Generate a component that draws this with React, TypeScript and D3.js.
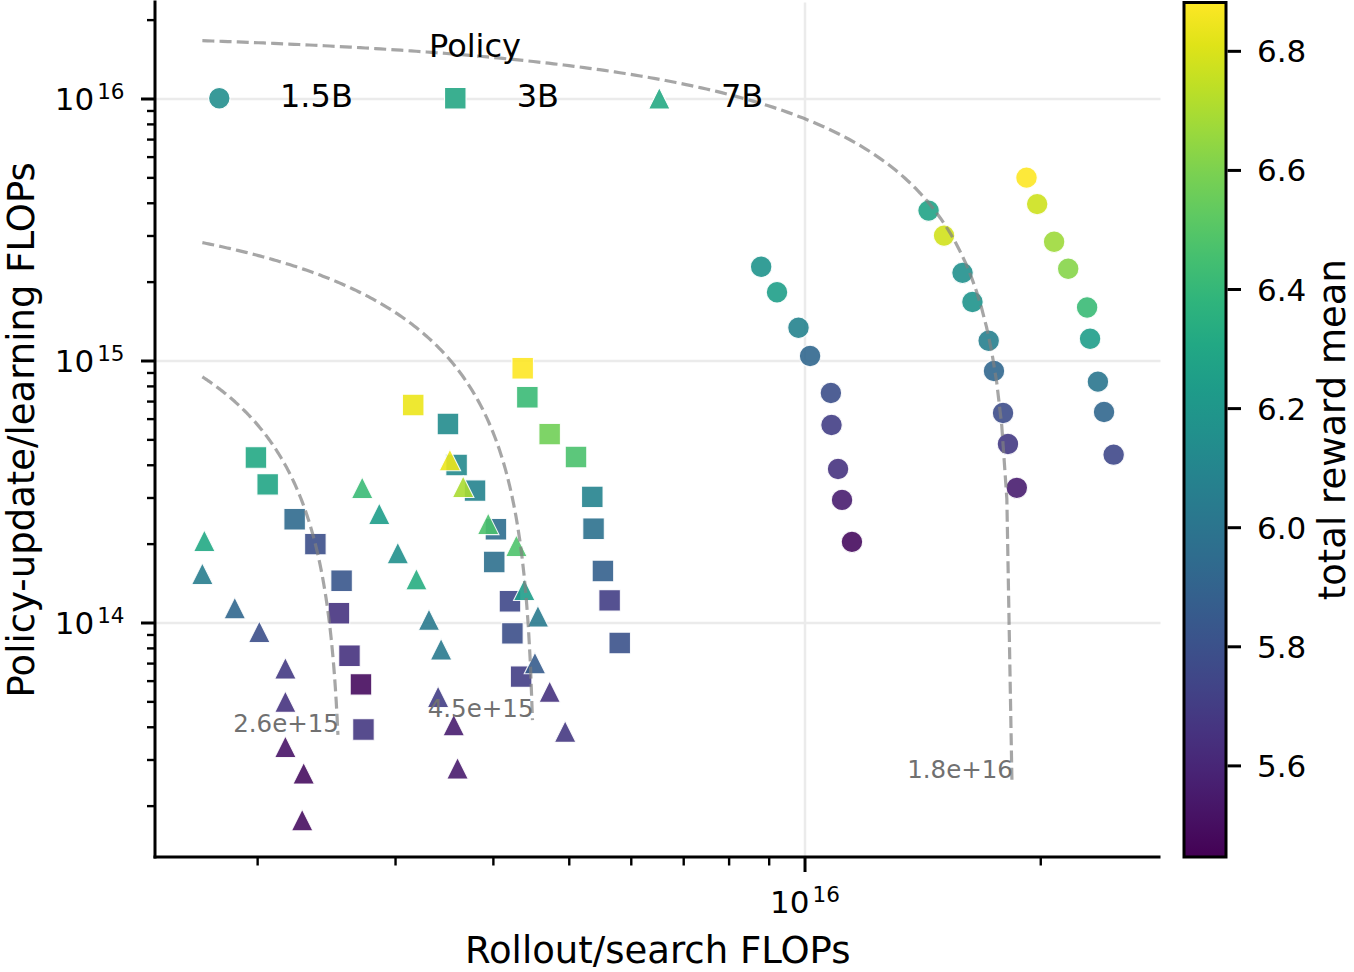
import * as d3 from "d3";

// Policy sizes in legend order
const policies = ["1.5B", "3B", "7B"];
const legendColors = ["#399a99", "#3aaf90", "#3bb290"];

// 1.5B runs
const rollout15 = [
  8.79e15, 9.21e15, 9.81e15, 1.015e16, 1.079e16, 1.081e16, 1.102e16, 1.115e16, 1.148e16,
  1.438e16, 1.505e16, 1.589e16, 1.636e16, 1.716e16, 1.743e16, 1.79e16, 1.816e16, 1.864e16,
  1.918e16, 1.979e16, 2.08e16, 2.168e16, 2.292e16, 2.312e16, 2.366e16, 2.409e16, 2.478e16,
];
const update15 = [
  2.29e15, 1.83e15, 1.34e15, 1.045e15, 7.55e14, 5.7e14, 3.87e14, 2.95e14, 2.04e14,
  3.75e15, 3.01e15, 2.17e15, 1.68e15, 1.195e15, 9.16e14, 6.33e14, 4.82e14, 3.28e14,
  5.01e15, 3.97e15, 2.85e15, 2.25e15, 1.6e15, 1.216e15, 8.34e14, 6.39e14, 4.39e14,
];
const reward15 = [
  6.19, 6.25, 6.09, 5.92, 5.79, 5.71, 5.66, 5.56, 5.49,
  6.28, 6.78, 6.16, 6.19, 6.06, 5.92, 5.78, 5.69, 5.56,
  6.88, 6.77, 6.67, 6.62, 6.42, 6.24, 6.01, 5.92, 5.76,
];

// 3B runs
const rollout3 = [
  1.99e15, 2.06e15, 2.23e15, 2.37e15, 2.56e15, 2.54e15, 2.62e15, 2.71e15, 2.73e15,
  3.16e15, 3.5e15, 3.59e15, 3.79e15, 4.03e15, 4.01e15, 4.2e15, 4.23e15, 4.34e15,
  4.36e15, 4.42e15, 4.72e15, 5.1e15, 5.35e15, 5.37e15, 5.52e15, 5.63e15, 5.8e15,
];
const update3 = [
  4.28e14, 3.38e14, 2.49e14, 2.0e14, 1.45e14, 1.09e14, 7.5e13, 5.83e13, 3.92e13,
  6.79e14, 5.75e14, 4.01e14, 3.2e14, 2.28e14, 1.71e14, 1.21e14, 9.13e13, 6.24e13,
  9.38e14, 7.27e14, 5.26e14, 4.3e14, 3.03e14, 2.29e14, 1.58e14, 1.22e14, 8.39e13,
];
const reward3 = [
  6.31, 6.29, 5.94, 5.79, 5.83, 5.66, 5.65, 5.49, 5.68,
  6.84, 6.14, 6.13, 6.09, 5.96, 5.97, 5.76, 5.79, 5.71,
  6.88, 6.42, 6.57, 6.47, 6.09, 5.98, 5.88, 5.71, 5.81,
];

// 7B runs
const rollout7 = [
  1.71e15, 1.7e15, 1.87e15, 2.01e15, 2.17e15, 2.17e15, 2.17e15, 2.29e15, 2.28e15,
  2.72e15, 2.86e15, 3.02e15, 3.19e15, 3.31e15, 3.43e15, 3.4e15, 3.56e15, 3.6e15,
  3.52e15, 3.66e15, 3.94e15, 4.28e15, 4.38e15, 4.56e15, 4.52e15, 4.72e15, 4.94e15,
];
const update7 = [
  2.06e14, 1.54e14, 1.14e14, 9.26e13, 6.72e13, 5.01e13, 3.37e13, 2.67e13, 1.77e13,
  3.28e14, 2.61e14, 1.85e14, 1.47e14, 1.03e14, 7.94e13, 5.23e13, 4.08e13, 2.79e13,
  4.19e14, 3.31e14, 2.39e14, 1.97e14, 1.34e14, 1.06e14, 7.04e13, 5.47e13, 3.85e13,
];
const reward7 = [
  6.31, 6.05, 5.92, 5.79, 5.69, 5.66, 5.52, 5.5, 5.5,
  6.42, 6.24, 6.16, 6.34, 6.03, 6.03, 5.71, 5.56, 5.55,
  6.84, 6.7, 6.47, 6.48, 6.24, 6.03, 5.86, 5.65, 5.68,
];

// iso-FLOP budgets (rollout + update) and where each dashed curve stops
const isoFlops = [2.57e15, 4.53e15, 1.84e16];
const isoEndUpdate = [3.74e13, 4.26e13, 2.5e13];

const rewardTicks = [5.6, 5.8, 6.0, 6.2, 6.4, 6.6, 6.8];

const W = 1354;
const H = 972;
const left = 155;
const right = 1160.5;
const top = 2.5;
const bottom = 857;
const cbX = 1184;
const cbW = 42;
const font = "DejaVu Sans";
const labelSize = 37;
const tickSize = 31;

const x = d3.scaleLog().domain([1.479e15, 2.844e16]).range([left, right]);
const y = d3.scaleLog().domain([1.279e13, 2.335e16]).range([bottom, top]);
const rewardDomain: [number, number] = [5.447, 6.882];
const color = d3.scaleSequential(d3.interpolateViridis).domain(rewardDomain);
const cy = d3.scaleLinear().domain(rewardDomain).range([bottom, top]);

type Pt = { rx: number; uy: number; r: number };
const zipRuns = (a: number[], b: number[], c: number[]): Pt[] =>
  a.map((v, i) => ({ rx: v, uy: b[i], r: c[i] }));
const series = [
  zipRuns(rollout15, update15, reward15),
  zipRuns(rollout3, update3, reward3),
  zipRuns(rollout7, update7, reward7),
];

const S = 10.75;
const markerPath = (k: number, s: number = S) => {
  if (k === 0) return d3.symbol(d3.symbolCircle, Math.PI * s * s)() as string;
  if (k === 1) return `M${-s},${-s}H${s}V${s}H${-s}Z`;
  return `M0,${-s}L${s},${s}L${-s},${s}Z`;
};

const isMajor = (v: number) => Math.abs(Math.log10(v) - Math.round(Math.log10(v))) < 1e-6;
const expOf = (v: number) => Math.round(Math.log10(v));

const xMin = d3.min(series.flat(), (d) => d.rx) as number;
const curveLine = d3
  .line<[number, number]>()
  .x((d) => x(d[0]))
  .y((d) => y(d[1]));
const isoPaths = isoFlops.map((c, i) => {
  const xEnd = c - isoEndUpdate[i];
  const n = 160;
  const pts: [number, number][] = d3.range(n).map((j) => {
    const rx = xMin * Math.pow(xEnd / xMin, j / (n - 1));
    return [rx, c - rx];
  });
  return { d: curveLine(pts) as string, end: [xEnd, isoEndUpdate[i]], label: d3.format(".1e")(c) };
});

const PowLabel = ({ v, ...rest }: { v: number; [k: string]: any }) => (
  <text fontSize={tickSize} {...rest}>
    10
    <tspan dx={3} dy={-11} fontSize={21.5}>
      {expOf(v)}
    </tspan>
  </text>
);

export default function App() {
  const xTicks = x.ticks();
  const yTicks = y.ticks();
  return (
    <svg
      width={W}
      height={H}
      style={{ position: "absolute", left: 0, top: 0, background: "#fff" }}
      fontFamily={font}
    >
      <defs>
        <linearGradient id="viridis" x1="0" y1="1" x2="0" y2="0">
          {d3.range(0, 1.0001, 0.05).map((t) => (
            <stop key={t} offset={t} stopColor={d3.interpolateViridis(t)} />
          ))}
        </linearGradient>
      </defs>

      {/* grid */}
      {yTicks.filter(isMajor).map((t) => (
        <line key={"gy" + t} x1={left} x2={right} y1={y(t)} y2={y(t)} stroke="#ebebeb" strokeWidth={2.5} />
      ))}
      {xTicks.filter(isMajor).map((t) => (
        <line key={"gx" + t} x1={x(t)} x2={x(t)} y1={top} y2={bottom} stroke="#ebebeb" strokeWidth={2.5} />
      ))}

      {/* runs, one marker shape per policy */}
      {series.map((pts, k) => (
        <g key={k}>
          {pts.map((p, i) => (
            <path
              key={i}
              d={markerPath(k)}
              transform={`translate(${x(p.rx)},${y(p.uy)})`}
              fill={color(p.r)}
              fillOpacity={0.9}
              stroke="#fff"
              strokeOpacity={0.9}
              strokeWidth={1.1}
            />
          ))}
        </g>
      ))}

      {/* iso-FLOP curves */}
      {isoPaths.map((c, i) => (
        <g key={"iso" + i}>
          <path d={c.d} fill="none" stroke="#808080" strokeOpacity={0.7} strokeWidth={3.2} strokeDasharray="12 5.2" />
          <text
            x={x(c.end[0]) + 1}
            y={y(c.end[1]) - 3}
            textAnchor="end"
            fontSize={24.5}
            fill="#707070"
          >
            {c.label}
          </text>
        </g>
      ))}

      {/* axes */}
      <line x1={left} x2={left} y1={top - 2} y2={bottom + 1.5} stroke="#000" strokeWidth={3} />
      <line x1={left - 1.5} x2={right} y1={bottom} y2={bottom} stroke="#000" strokeWidth={3} />
      {yTicks.map((t) => {
        const major = isMajor(t);
        return (
          <line
            key={"ty" + t}
            x1={left - (major ? 14 : 8)}
            x2={left}
            y1={y(t)}
            y2={y(t)}
            stroke="#000"
            strokeWidth={major ? 3 : 2.4}
          />
        );
      })}
      {yTicks.filter(isMajor).map((t) => (
        <PowLabel key={"ly" + t} v={t} x={124.5} y={y(t) + 11} textAnchor="end" />
      ))}
      {xTicks.map((t) => {
        const major = isMajor(t);
        return (
          <line
            key={"tx" + t}
            x1={x(t)}
            x2={x(t)}
            y1={bottom}
            y2={bottom + (major ? 15 : 8.5)}
            stroke="#000"
            strokeWidth={major ? 3 : 2.4}
          />
        );
      })}
      {xTicks.filter(isMajor).map((t) => (
        <PowLabel key={"lx" + t} v={t} x={x(t)} y={913} textAnchor="middle" />
      ))}
      <text x={(left + right) / 2} y={963} textAnchor="middle" fontSize={labelSize}>
        Rollout/search FLOPs
      </text>
      <text
        transform={`translate(34,${(top + bottom) / 2}) rotate(-90)`}
        textAnchor="middle"
        fontSize={labelSize}
      >
        Policy-update/learning FLOPs
      </text>

      {/* legend */}
      <text x={475} y={57} textAnchor="middle" fontSize={32}>
        Policy
      </text>
      {policies.map((p, k) => {
        const mx = [219.3, 455.3, 659.3][k];
        const tx = [280, 516.7, 721][k];
        return (
          <g key={p}>
            <path
              d={markerPath(k)}
              transform={`translate(${mx},98.3)`}
              fill={legendColors[k]}
              stroke="#fff"
              strokeWidth={1.1}
            />
            <text x={tx} y={107.3} fontSize={32}>
              {p}
            </text>
          </g>
        );
      })}

      {/* colorbar */}
      <rect x={cbX} y={top} width={cbW} height={bottom - top} fill="url(#viridis)" stroke="#000" strokeWidth={3} />
      {rewardTicks.map((t) => (
        <g key={"cb" + t}>
          <line x1={cbX + cbW + 1.5} x2={cbX + cbW + 15} y1={cy(t)} y2={cy(t)} stroke="#000" strokeWidth={3} />
          <text x={1257} y={cy(t) + 11} fontSize={tickSize}>
            {d3.format(".1f")(t)}
          </text>
        </g>
      ))}
      <text
        transform={`translate(1345,${(top + bottom) / 2}) rotate(-90)`}
        textAnchor="middle"
        fontSize={labelSize}
      >
        total reward mean
      </text>
    </svg>
  );
}
